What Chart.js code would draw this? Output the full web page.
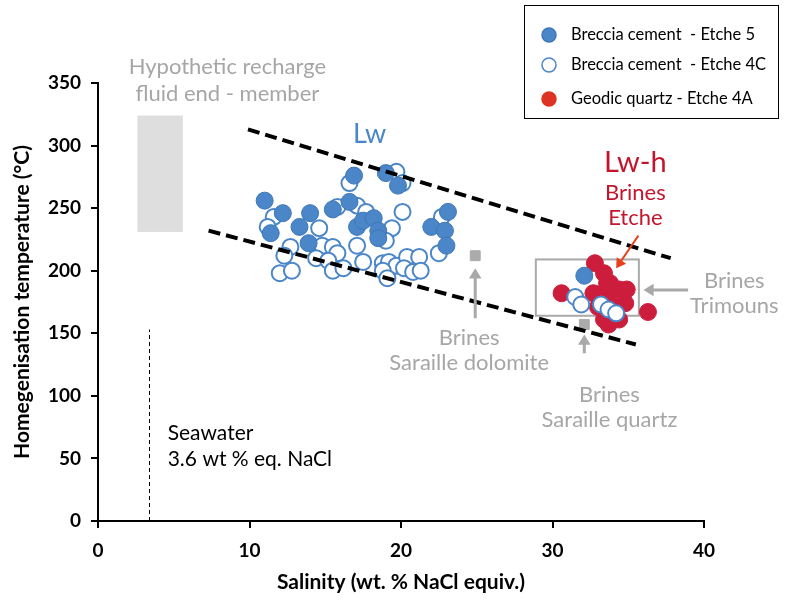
<!DOCTYPE html>
<html>
<head>
<meta charset="utf-8">
<script src="https://cdn.jsdelivr.net/npm/chart.js@4"></script>
<style>
  html, body { margin: 0; padding: 0; background: #fff; }
  #wrap { width: 788px; height: 605px; }
</style>
</head>
<body>
<div id="wrap"><canvas id="fluidChart" width="788" height="605"></canvas></div>
<script>
// Breccia cement - Etche 5 (puntos llenos)
const etche5Sal = [11.0, 12.2, 11.4, 13.3, 14.0, 13.9, 15.5, 16.6, 16.9, 17.1, 17.5, 18.2, 18.5, 18.5, 19.0, 19.8, 22.0, 23.1, 22.9, 23.0, 32.1];
const etche5Temp = [256, 246, 230, 235, 246, 222, 249, 255, 276, 235, 240, 242, 232, 226, 278, 268, 235, 247, 232, 220, 196];

// Breccia cement - Etche 4C (puntos vacíos)
const etche4cSal = [19.7, 20.1, 16.6, 20.1, 15.8, 17.1, 17.7, 11.6, 11.2, 14.6, 19.4, 22.7, 17.1, 19.0, 12.7, 12.3, 14.8, 15.5, 15.8, 14.4, 15.2, 17.5, 15.5, 16.2, 12.0, 12.8, 18.8, 19.2, 19.7, 20.4, 21.2, 22.5, 18.8, 20.2, 20.8, 21.3, 19.1, 31.5, 31.9, 33.2, 33.7, 34.2];
const etche4cTemp = [279, 270, 270, 247, 251, 252, 247, 243, 235, 234, 234, 243, 220, 224, 219, 212, 220, 219, 214, 210, 208, 207, 200, 202, 198, 200, 206, 207, 204, 211, 211, 214, 200, 202, 199, 200, 194, 179, 173, 173, 169, 166];

// Geodic quartz - Etche 4A
const etche4aSal = [32.8, 33.4, 33.6, 30.6, 32.7, 33.5, 34.4, 34.9, 33.0, 33.9, 34.8, 33.4, 33.7, 34.2, 36.3, 34.4, 33.8, 33.0];
const etche4aTemp = [206, 198, 190, 182, 182, 181, 185, 185, 171, 173, 174, 161, 157, 165, 167, 161, 190, 181];

// Líneas de tendencia discontinuas
const upperTrendSal = [9.9, 37.8];
const upperTrendTemp = [313, 210];
const lowerTrendSal = [7.3, 35.5];
const lowerTrendTemp = [232, 141];

// Salmueras de Saraille (cuadrados grises)
const brineSal = [24.9, 32.1];
const brineTemp = [212, 157];

// Agua de mar
const seawaterSal = [3.4, 3.4];
const seawaterTemp = [0, 153];

// Rectángulo del fluido de recarga y caja de Trimouns
const rechargeSal = [2.6, 5.6];
const rechargeTemp = [231, 324];
const trimounsSal = [28.9, 35.7];
const trimounsTemp = [164, 209];

const xTicks = [0, 10, 20, 30, 40];
const yTicks = [0, 50, 100, 150, 200, 250, 300, 350];

const toPoints = (xs, ys) => xs.map((x, i) => ({ x: x, y: ys[i] }));

const FONT = "Lato, 'Open Sans', sans-serif";
const GREY = "#a6a6a6";
const RED = "#c3162d";
const BLUE = "#4a86c8";

const arrow = (ctx, x1, y1, x2, y2, color, width, head) => {
  const ang = Math.atan2(y2 - y1, x2 - x1);
  ctx.save();
  ctx.strokeStyle = color;
  ctx.fillStyle = color;
  ctx.lineWidth = width;
  ctx.beginPath();
  ctx.moveTo(x1, y1);
  ctx.lineTo(x2 - Math.cos(ang) * head * 0.6, y2 - Math.sin(ang) * head * 0.6);
  ctx.stroke();
  ctx.beginPath();
  ctx.moveTo(x2, y2);
  ctx.lineTo(x2 - head * Math.cos(ang - 0.55), y2 - head * Math.sin(ang - 0.55));
  ctx.lineTo(x2 - head * Math.cos(ang + 0.55), y2 - head * Math.sin(ang + 0.55));
  ctx.closePath();
  ctx.fill();
  ctx.restore();
};

// Dibuja cajas antes de los puntos
const backgroundShapes = {
  id: "backgroundShapes",
  beforeDatasetsDraw(chart) {
    const { ctx, scales: { x, y } } = chart;
    ctx.save();
    ctx.fillStyle = "#dedede";
    const rx = x.getPixelForValue(rechargeSal[0]), rx2 = x.getPixelForValue(rechargeSal[1]);
    const ry = y.getPixelForValue(rechargeTemp[1]), ry2 = y.getPixelForValue(rechargeTemp[0]);
    ctx.fillRect(rx, ry, rx2 - rx, ry2 - ry);

    ctx.strokeStyle = "#a9a9a9";
    ctx.lineWidth = 2;
    const bx = x.getPixelForValue(trimounsSal[0]), bx2 = x.getPixelForValue(trimounsSal[1]);
    const by = y.getPixelForValue(trimounsTemp[1]), by2 = y.getPixelForValue(trimounsTemp[0]);
    ctx.strokeRect(bx, by, bx2 - bx, by2 - by);
    ctx.restore();
  }
};

// Textos, flechas y leyenda
const annotations = {
  id: "annotations",
  afterDatasetsDraw(chart) {
    const { ctx, scales: { x, y } } = chart;
    const px = v => x.getPixelForValue(v);
    const py = v => y.getPixelForValue(v);
    const text = (str, sx, sy, color, size, align) => {
      ctx.fillStyle = color;
      ctx.font = size + "px " + FONT;
      ctx.textAlign = align || "center";
      ctx.textBaseline = "middle";
      ctx.fillText(str, px(sx), py(sy));
    };
    ctx.save();
    text("Hypothetic recharge", 8.54, 363, GREY, 22);
    text("fluid end - member", 8.54, 341, GREY, 22);
    text("Lw", 17.93, 309, BLUE, 27);
    text("Lw-h", 35.47, 286, RED, 29);
    text("Brines", 35.47, 262, RED, 22);
    text("Etche", 35.47, 242, RED, 22);
    text("Brines", 42.0, 192, GREY, 22);
    text("Trimouns", 42.0, 172, GREY, 22);
    text("Brines", 24.5, 146.4, GREY, 22);
    text("Saraille dolomite", 24.5, 126.5, GREY, 22);
    text("Brines", 33.76, 101, GREY, 22);
    text("Saraille quartz", 33.76, 81, GREY, 22);
    text("Seawater", 4.6, 70, "#000", 21, "left");
    text("3.6 wt % eq. NaCl", 4.6, 49.5, "#000", 21, "left");

    arrow(ctx, px(24.9), py(162), px(24.9), py(202), "#a9a9a9", 3, 12);
    arrow(ctx, px(32.1), py(134), px(32.1), py(149), "#a9a9a9", 3, 12);
    arrow(ctx, px(38.95), py(184.6), px(36.0), py(184.6), "#a9a9a9", 3, 12);
    arrow(ctx, px(35.67), py(228), px(34.2), py(202), "#e8401c", 2, 11);

    // Leyenda
    ctx.fillStyle = "#fff";
    ctx.fillRect(524, 5, 254, 113);
    ctx.strokeStyle = "#000";
    ctx.lineWidth = 1;
    ctx.strokeRect(524.5, 5.5, 254, 113);
    const items = [
      { label: "Breccia cement  - Etche 5", fill: BLUE, stroke: "#3f77b5", y: 35 },
      { label: "Breccia cement  - Etche 4C", fill: "#fff", stroke: BLUE, y: 65 },
      { label: "Geodic quartz - Etche 4A", fill: "#dd3322", stroke: "#dd3322", y: 99 }
    ];
    items.forEach(it => {
      ctx.beginPath();
      ctx.arc(549, it.y, 7, 0, Math.PI * 2);
      ctx.fillStyle = it.fill;
      ctx.fill();
      ctx.lineWidth = 1.5;
      ctx.strokeStyle = it.stroke;
      ctx.stroke();
      ctx.fillStyle = "#000";
      ctx.font = "16.5px " + FONT;
      ctx.textAlign = "left";
      ctx.textBaseline = "middle";
      ctx.fillText(it.label, 571, it.y);
    });
    ctx.restore();
  }
};

const datasets = [
  {
    label: "upper", data: toPoints(upperTrendSal, upperTrendTemp), showLine: true,
    borderColor: "#000", borderWidth: 4, borderDash: [12, 6], pointRadius: 0, order: 0
  },
  {
    label: "lower", data: toPoints(lowerTrendSal, lowerTrendTemp), showLine: true,
    borderColor: "#000", borderWidth: 4, borderDash: [12, 6], pointRadius: 0, order: 0
  },
  {
    label: "seawater", data: toPoints(seawaterSal, seawaterTemp), showLine: true,
    borderColor: "#000", borderWidth: 1, borderDash: [4, 3], pointRadius: 0, order: 0
  },
  {
    label: "Breccia cement  - Etche 5", data: toPoints(etche5Sal, etche5Temp),
    backgroundColor: BLUE, borderColor: "#3f77b5", borderWidth: 1, pointRadius: 8.5, order: 1
  },
  {
    label: "Breccia cement  - Etche 4C", data: toPoints(etche4cSal, etche4cTemp),
    backgroundColor: "#fff", borderColor: BLUE, borderWidth: 2, pointRadius: 8, order: 2
  },
  {
    label: "Geodic quartz - Etche 4A", data: toPoints(etche4aSal, etche4aTemp),
    backgroundColor: "#cc1e3c", borderColor: "#cc1e3c", borderWidth: 1, pointRadius: 8.5, order: 3
  },
  {
    label: "brines", data: toPoints(brineSal, brineTemp), pointStyle: "rect",
    backgroundColor: "#ababab", borderColor: "#ababab", pointRadius: 7, order: 4
  }
];

new Chart("fluidChart", {
  type: "scatter",
  data: { datasets },
  options: {
    responsive: false,
    animation: false,
    layout: { padding: { left: 0, right: 84, top: 83, bottom: 0 } },
    plugins: { legend: { display: false }, tooltip: { enabled: false } },
    scales: {
      x: {
        type: "linear", min: 0, max: 40,
        afterBuildTicks: s => { s.ticks = xTicks.map(v => ({ value: v })); },
        afterFit: s => { s.height = 84; },
        grid: { drawOnChartArea: false, drawTicks: true, tickLength: 7, color: "#000", lineWidth: 2 },
        border: { display: true, color: "#000", width: 2 },
        ticks: { color: "#000", font: { family: FONT, size: 19, weight: "bold" }, padding: 11, maxRotation: 0 },
        title: { display: true, text: "Salinity (wt. % NaCl equiv.)", color: "#000",
                 font: { family: FONT, size: 21, weight: "bold" }, padding: { top: 4, bottom: 10 } }
      },
      y: {
        type: "linear", min: 0, max: 350,
        afterBuildTicks: s => { s.ticks = yTicks.map(v => ({ value: v })); },
        afterFit: s => { s.width = 98; },
        grid: { drawOnChartArea: false, drawTicks: true, tickLength: 7, color: "#000", lineWidth: 2 },
        border: { display: true, color: "#000", width: 2 },
        ticks: { color: "#000", font: { family: FONT, size: 19, weight: "bold" }, padding: 10 },
        title: { display: true, text: "Homegenisation temperature (°C)", color: "#000",
                 font: { family: FONT, size: 21, weight: "bold" }, padding: { top: 10, bottom: 4 } }
      }
    }
  },
  plugins: [backgroundShapes, annotations]
});
</script>
</body>
</html>
